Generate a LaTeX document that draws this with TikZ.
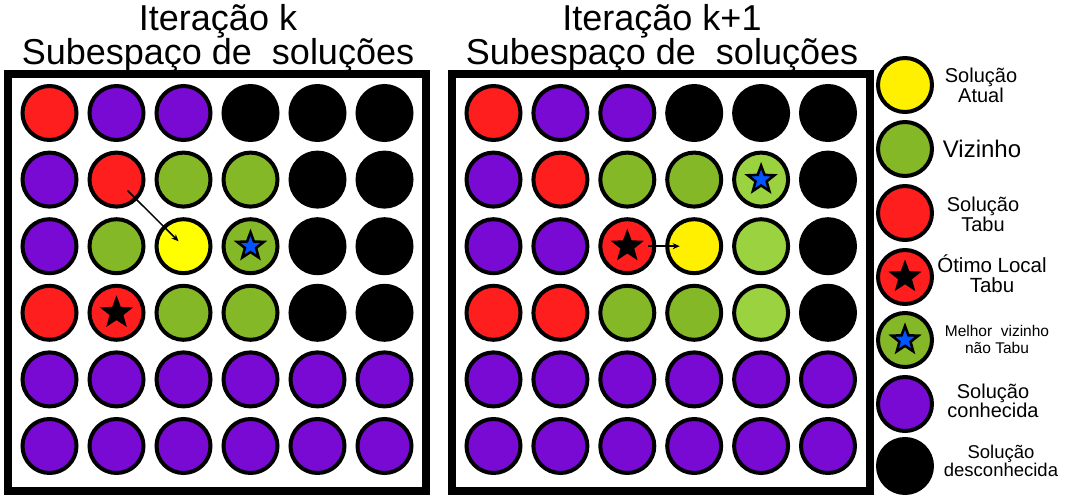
\documentclass[tikz,border=0pt]{standalone}
\usepackage{fontspec}
\setmainfont{Liberation Sans}
\usetikzlibrary{shapes.geometric,arrows.meta}
\definecolor{ctabu}{HTML}{FF1E1E}
\definecolor{cknown}{HTML}{780AD4}
\definecolor{cviz}{HTML}{84B827}
\definecolor{cvizl}{HTML}{9BD23F}
\definecolor{cyel}{HTML}{FFFF00}
\definecolor{cyel2}{HTML}{FFF000}
\definecolor{cblue}{HTML}{0055FF}
\tikzset{
  sol/.style={circle, draw=black, line width=4pt, minimum size=54pt, inner sep=0pt},
  tabu/.style={sol, fill=ctabu},
  known/.style={sol, fill=cknown},
  unknown/.style={sol, fill=black},
  viz/.style={sol, fill=cviz},
  vizl/.style={sol, fill=cvizl},
  atual/.style={sol, fill=cyel},
  atual2/.style={sol, fill=cyel2},
  bstar/.style={star, star points=5, star point ratio=2.4, fill=black, minimum size=35pt, inner sep=0pt},
  bluestar/.style={star, star points=5, star point ratio=2.4, fill=cblue, draw=black, line width=2.5pt, minimum size=28pt, inner sep=0pt},
  frame/.style={draw=black, line width=8pt},
  arr/.style={-{Stealth[length=7pt,width=6pt]}, line width=1.5pt},
  title/.style={font=\fontsize{36}{33}\selectfont, align=center, inner sep=0pt},
  leg/.style={align=center, inner sep=0pt, anchor=south}
}
\begin{document}
\begin{tikzpicture}[x=1pt,y=-1pt]
\useasboundingbox (0,0) rectangle (1068,500);
% frames
\draw[frame] (8,74.5) rectangle (426,491);
\draw[frame] (452,74.5) rectangle (869.5,491);
% titles
\node[title, anchor=north] (t1) at (218,4) {Iteração k\\Subespaço de\ \ soluções};
\node[title, anchor=north] (t2) at (662,4) {Iteração k+1\\Subespaço de\ \ soluções};
% left grid
\foreach \st [count=\i] in {tabu,known,known,unknown,unknown,unknown}
  \node[\st] (L1\i) at ({49.5+67*(\i-1)},113) {};
\foreach \st [count=\i] in {known,tabu,viz,viz,unknown,unknown}
  \node[\st] (L2\i) at ({49.5+67*(\i-1)},179.6) {};
\foreach \st [count=\i] in {known,viz,atual,viz,unknown,unknown}
  \node[\st] (L3\i) at ({49.5+67*(\i-1)},246.2) {};
\foreach \st [count=\i] in {tabu,tabu,viz,viz,unknown,unknown}
  \node[\st] (L4\i) at ({49.5+67*(\i-1)},312.8) {};
\foreach \r/\y in {5/379.4,6/446}
  \foreach \i in {1,...,6}
    \node[known] (L\r\i) at ({49.5+67*(\i-1)},\y) {};
\node[bluestar] (Ls1) at (L34.center) {};
\node[bstar] (Ls2) at (L42.center) {};
\draw[arr, shorten <=15.5pt, shorten >=7pt] (L22.center) -- (L33.center);
% right grid
\foreach \st [count=\i] in {tabu,known,known,unknown,unknown,unknown}
  \node[\st] (R1\i) at ({493.5+66.9*(\i-1)},113) {};
\foreach \st [count=\i] in {known,tabu,viz,viz,vizl,unknown}
  \node[\st] (R2\i) at ({493.5+66.9*(\i-1)},179.6) {};
\foreach \st [count=\i] in {known,known,tabu,atual2,vizl,unknown}
  \node[\st] (R3\i) at ({493.5+66.9*(\i-1)},246.2) {};
\foreach \st [count=\i] in {tabu,tabu,viz,viz,vizl,unknown}
  \node[\st] (R4\i) at ({493.5+66.9*(\i-1)},312.8) {};
\foreach \r/\y in {5/379.4,6/446}
  \foreach \i in {1,...,6}
    \node[known] (R\r\i) at ({493.5+66.9*(\i-1)},\y) {};
\node[bluestar] (Rs1) at (R25.center) {};
\node[bstar] (Rs2) at (R33.center) {};
\draw[arr, shorten <=21pt, shorten >=14.5pt] (R33.center) -- (R34.center);
% legend
\node[atual2] (G1) at (905,85) {};
\node[viz] (G2) at (905,149) {};
\node[tabu] (G3) at (905,213) {};
\node[tabu] (G4) at (905,277) {};
\node[bstar] (G4s) at (G4.center) {};
\node[viz] (G5) at (905,340) {};
\node[bluestar] (G5s) at (G5.center) {};
\node[known] (G6) at (905,404) {};
\node[unknown] (G7) at (905,466) {};
\node[leg, font=\fontsize{20}{19.5}\selectfont] (l1) at (981,102.7) {Solução\\Atual};
\node[leg, font=\fontsize{24}{24}\selectfont] (l2) at (982,158) {Vizinho};
\node[leg, font=\fontsize{20}{20}\selectfont] (l3) at (983,231.7) {Solução\\Tabu};
\node[leg, font=\fontsize{20.5}{20.3}\selectfont] (l4) at (992,293.3) {Ótimo Local\\Tabu};
\node[leg, font=\fontsize{15.5}{17.3}\selectfont] (l5) at (997,354) {Melhor\ \ vizinho\\não Tabu};
\node[leg, font=\fontsize{20}{19}\selectfont] (l6) at (993,418.3) {Solução\\conhecida};
\node[leg, font=\fontsize{18.5}{17.3}\selectfont] (l7) at (1001,477.3) {Solução\\desconhecida};
\end{tikzpicture}
\end{document}
